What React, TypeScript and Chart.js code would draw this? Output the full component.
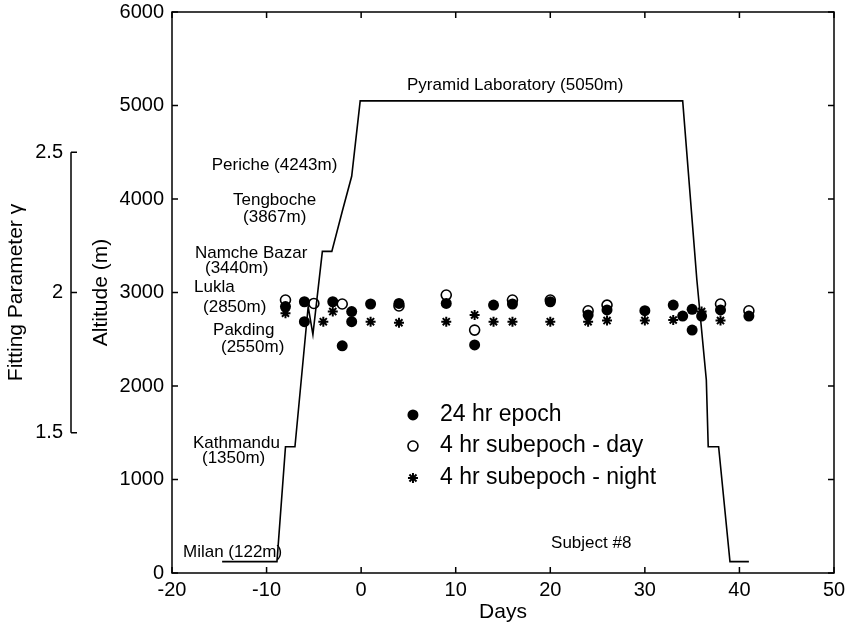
import React, { useEffect, useRef } from 'react';
import { Chart, registerables } from 'chart.js';

Chart.register(...registerables);

const FONT = '"Liberation Sans", Arial, Helvetica, sans-serif';

// Axis ticks
const xTicks = [-20, -10, 0, 10, 20, 30, 40, 50];
const altTicks = [0, 1000, 2000, 3000, 4000, 5000, 6000];
const gammaTicks = [1.5, 2, 2.5];

// Altitude profile (days, metres)
const profileDays = [-14.7, -8.9, -8.0, -7.0, -5.6, -5.1, -4.1, -3.1, -2.0, -1.0, -0.1, 34.0, 35.5, 36.5, 36.7, 37.8, 39.0, 41.0];
const profileAlt = [122, 122, 1350, 1350, 2850, 2550, 3440, 3440, 3867, 4243, 5050, 5050, 3134, 2064, 1350, 1350, 122, 122];

// Fitting parameter gamma: 24 hr epoch
const epochDays = [-8, -6, -6, -3, -1, -1, -2, 1, 4, 9, 12, 14, 16, 20, 24, 26, 30, 33, 34, 35, 35, 36, 38, 41];
const epochGamma = [1.95, 1.967, 1.896, 1.967, 1.932, 1.896, 1.81, 1.959, 1.961, 1.961, 1.813, 1.955, 1.959, 1.967, 1.92, 1.938, 1.935, 1.955, 1.916, 1.94, 1.866, 1.916, 1.938, 1.916];

// 4 hr subepoch - day
const dayDays = [-8, -5, -2, 4, 9, 12, 16, 20, 24, 26, 38, 41];
const dayGamma = [1.973, 1.961, 1.959, 1.952, 1.991, 1.866, 1.973, 1.973, 1.935, 1.955, 1.959, 1.935];

// 4 hr subepoch - night
const nightDays = [-8, -4, -3, 1, 4, 9, 12, 14, 16, 20, 24, 26, 30, 33, 36, 38];
const nightGamma = [1.926, 1.896, 1.932, 1.896, 1.892, 1.896, 1.92, 1.896, 1.896, 1.896, 1.896, 1.9, 1.9, 1.902, 1.932, 1.9];

// Text annotations (data coordinates: day, altitude)
const noteTexts = ['Pyramid Laboratory (5050m)', 'Periche (4243m)', 'Tengboche', '(3867m)', 'Namche Bazar', '(3440m)', 'Lukla', '(2850m)', 'Pakding', '(2550m)', 'Kathmandu', '(1350m)', 'Milan (122m)', 'Subject #8'];
const noteDays = [4.85, -15.8, -13.55, -12.49, -17.57, -16.51, -17.67, -16.72, -15.66, -14.82, -17.78, -16.83, -18.84, 20.08];
const noteAlts = [5219, 4364, 3989, 3807, 3422, 3262, 3059, 2845, 2599, 2417, 1390, 1230, 225, 321];

// Legend
const legendLabels = ['24 hr epoch', '4 hr subepoch - day', '4 hr subepoch - night'];
const legendMarkerDay = 5.48;
const legendTextDay = 8.34;
const legendAlts = [1690, 1358, 1016];

const toPts = (xs: number[], ys: number[]) => xs.map((x, i) => ({ x, y: ys[i] }));

function drawMarker(ctx: CanvasRenderingContext2D, kind: number, x: number, y: number) {
  ctx.save();
  ctx.strokeStyle = '#000';
  ctx.fillStyle = '#000';
  if (kind === 0) {
    ctx.beginPath();
    ctx.arc(x, y, 5.5, 0, Math.PI * 2);
    ctx.fill();
  } else if (kind === 1) {
    ctx.lineWidth = 1.6;
    ctx.fillStyle = '#fff';
    ctx.beginPath();
    ctx.arc(x, y, 5, 0, Math.PI * 2);
    ctx.fill();
    ctx.stroke();
  } else {
    ctx.lineWidth = 2;
    const r = 5;
    ctx.beginPath();
    for (let k = 0; k < 4; k++) {
      const a = (k * Math.PI) / 4;
      ctx.moveTo(x - r * Math.cos(a), y - r * Math.sin(a));
      ctx.lineTo(x + r * Math.cos(a), y + r * Math.sin(a));
    }
    ctx.stroke();
  }
  ctx.restore();
}

const framePlugin = {
  id: 'frameDecor',
  afterDraw(chart: any) {
    const { ctx, chartArea: a, scales } = chart;
    const xs = scales.x, ys = scales.y, g = scales.y2;
    ctx.save();
    ctx.strokeStyle = '#000';
    ctx.lineWidth = 1.5;
    ctx.strokeRect(a.left, a.top, a.right - a.left, a.bottom - a.top);
    const tl = 6;
    ctx.beginPath();
    xTicks.forEach((v) => {
      const px = xs.getPixelForValue(v);
      ctx.moveTo(px, a.bottom); ctx.lineTo(px, a.bottom - tl);
      ctx.moveTo(px, a.top); ctx.lineTo(px, a.top + tl);
    });
    altTicks.forEach((v) => {
      const py = ys.getPixelForValue(v);
      ctx.moveTo(a.left, py); ctx.lineTo(a.left + tl, py);
      ctx.moveTo(a.right, py); ctx.lineTo(a.right - tl, py);
    });
    ctx.stroke();

    // gamma axis (partial)
    const gx = g.right - 9;
    const gTop = g.getPixelForValue(2.5);
    const gBot = g.getPixelForValue(1.5);
    ctx.beginPath();
    ctx.moveTo(gx, gTop); ctx.lineTo(gx, gBot);
    gammaTicks.forEach((v) => {
      const py = g.getPixelForValue(v);
      ctx.moveTo(gx, py); ctx.lineTo(gx + 6, py);
    });
    ctx.stroke();

    // annotations
    ctx.fillStyle = '#000';
    ctx.font = `17px ${FONT}`;
    ctx.textAlign = 'left';
    ctx.textBaseline = 'middle';
    noteTexts.forEach((t, i) => {
      ctx.fillText(t, xs.getPixelForValue(noteDays[i]), ys.getPixelForValue(noteAlts[i]));
    });

    // legend
    ctx.font = `23px ${FONT}`;
    legendLabels.forEach((t, i) => {
      const py = ys.getPixelForValue(legendAlts[i]);
      drawMarker(ctx, i, xs.getPixelForValue(legendMarkerDay), py);
      ctx.fillStyle = '#000';
      ctx.fillText(t, xs.getPixelForValue(legendTextDay), py);
    });
    ctx.restore();
  },
};

export default function App() {
  const ref = useRef<HTMLCanvasElement>(null);
  useEffect(() => {
    document.body.style.margin = '0';
    const canvas = ref.current!;
    const tickFont = { family: FONT, size: 20 };
    const titleFont = { family: FONT, size: 21 };
    const zeroV = (s: any) => { s.paddingTop = 0; s.paddingBottom = 0; };
    const chart = new Chart(canvas, {
      type: 'scatter',
      data: {
        datasets: [
          {
            label: 'Altitude',
            data: toPts(profileDays, profileAlt),
            yAxisID: 'y',
            showLine: true,
            borderColor: '#000',
            borderWidth: 1.6,
            pointRadius: 0,
            tension: 0,
          },
          {
            label: legendLabels[0],
            data: toPts(epochDays, epochGamma),
            yAxisID: 'y2',
            pointStyle: 'circle',
            pointRadius: 5.5,
            backgroundColor: '#000',
            borderColor: '#000',
            borderWidth: 0,
          },
          {
            label: legendLabels[1],
            data: toPts(dayDays, dayGamma),
            yAxisID: 'y2',
            pointStyle: 'circle',
            pointRadius: 5,
            backgroundColor: '#fff',
            borderColor: '#000',
            borderWidth: 1.6,
          },
          {
            label: legendLabels[2],
            data: toPts(nightDays, nightGamma),
            yAxisID: 'y2',
            pointStyle: 'star',
            pointRadius: 5,
            backgroundColor: '#000',
            borderColor: '#000',
            borderWidth: 2,
          },
        ],
      } as any,
      options: {
        responsive: false,
        animation: false,
        layout: { padding: { top: 12, right: 14, left: 0, bottom: 0 } },
        plugins: { legend: { display: false }, tooltip: { enabled: false } },
        scales: {
          x: {
            type: 'linear',
            position: 'bottom',
            min: -20,
            max: 50,
            afterBuildTicks: (s: any) => { s.ticks = xTicks.map((v) => ({ value: v })); },
            grid: { display: false, drawTicks: false },
            border: { display: false },
            ticks: { color: '#000', font: tickFont, padding: 5, maxRotation: 0, autoSkip: false, callback: (v: any) => String(v) },
            title: { display: true, text: 'Days', color: '#000', font: titleFont, padding: { top: 0, bottom: 5 } },
            afterFit: (s: any) => { s.height = 57; s.paddingLeft = 0; s.paddingRight = 0; },
          },
          y: {
            type: 'linear',
            position: 'left',
            weight: 0,
            min: 0,
            max: 6000,
            afterBuildTicks: (s: any) => { s.ticks = altTicks.map((v) => ({ value: v })); },
            grid: { display: false, drawTicks: false },
            border: { display: false },
            ticks: { color: '#000', font: tickFont, padding: 8, autoSkip: false, callback: (v: any) => String(v) },
            title: { display: true, text: 'Altitude (m)', color: '#000', font: titleFont, padding: { top: 9, bottom: 0 } },
            afterFit: (s: any) => { s.width = 92; zeroV(s); },
          },
          y2: {
            type: 'linear',
            position: 'left',
            weight: 1,
            min: 1,
            max: 3,
            afterBuildTicks: (s: any) => { s.ticks = gammaTicks.map((v) => ({ value: v })); },
            grid: { display: false, drawTicks: false },
            border: { display: false },
            ticks: { color: '#000', font: tickFont, padding: 17, autoSkip: false, callback: (v: any) => String(v) },
            title: { display: true, text: 'Fitting Parameter γ', color: '#000', font: titleFont, padding: { top: 4, bottom: 0 } },
            afterFit: (s: any) => { s.width = 80; zeroV(s); },
          },
        },
      } as any,
      plugins: [framePlugin],
    });
    return () => chart.destroy();
  }, []);
  return (
    <div style={{ width: 848, height: 630, position: 'relative' }}>
      <canvas ref={ref} width={848} height={630} style={{ display: 'block' }} />
    </div>
  );
}
